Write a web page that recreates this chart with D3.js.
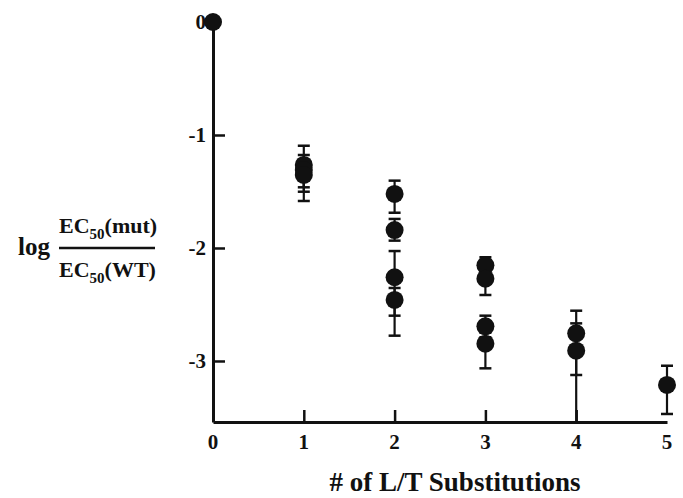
<!DOCTYPE html>
<html>
<head>
<meta charset="utf-8">
<script src="https://cdn.jsdelivr.net/npm/d3@7"></script>
<style>
  body { margin: 0; background: #fff; }
  text { font-family: "Liberation Serif", "Times New Roman", serif; font-weight: bold; fill: #111; }
</style>
</head>
<body>
<svg id="myGraph" width="683" height="498"></svg>
<script>
// number of L/T substitutions for each mutant
var substitutions = [0, 1, 1, 1, 2, 2, 2, 2, 3, 3, 3, 3, 4, 4, 5]
// log EC50(mut)/EC50(WT)
var logRatio = [0, -1.265, -1.31, -1.354, -1.522, -1.841, -2.259, -2.46, -2.153, -2.272, -2.693, -2.847, -2.755, -2.909, -3.212]
// error bar ends (upper / lower), null = no bar
var errHigh = [null, -1.095, -1.177, -1.25, -1.404, -1.743, -2.027, -2.354, -2.082, -2.2, -2.599, -2.75, -2.555, -2.667, -3.042]
var errLow = [null, -1.463, -1.502, -1.584, -1.688, -1.935, -2.599, -2.776, -2.22, -2.416, -2.79, -3.065, -3.124, -3.6, -3.469]

var xTicks = [0, 1, 2, 3, 4, 5]
var yTicks = [0, -1, -2, -3]

var data = substitutions.map((d, i) => {
    return { x: d, y: logRatio[i], hi: errHigh[i], lo: errLow[i] }
})

var svg = d3.select("#myGraph")

var xScale = d3.scaleLinear()
        .domain([0, 5])
        .range([213, 667])

var yScale = d3.scaleLinear()
        .domain([-3.54, 0])
        .range([422, 22])

var yMin = yScale.domain()[0]

// domain line + inward ticks, labels drawn separately
var xAxis = d3.axisTop(xScale)
        .tickValues([1, 2, 3, 4])
        .tickSize(12)
        .tickFormat("")
        .tickSizeOuter(0)

svg.append("g")
    .attr("class", "axis")
    .attr("transform", "translate(0," + yScale(yMin) + ")")
    .call(xAxis)

var yAxis = d3.axisRight(yScale)
        .tickValues([-1, -2, -3])
        .tickSize(12)
        .tickFormat("")
        .tickSizeOuter(0)

svg.append("g")
    .attr("class", "axis")
    .attr("transform", "translate(" + xScale(0) + ",0)")
    .call(yAxis)

svg.selectAll(".axis path").attr("stroke", "#111").attr("stroke-width", 3)
svg.selectAll(".axis line").attr("stroke", "#111").attr("stroke-width", 2.5)

// tick labels
svg.append("g")
    .selectAll("text")
    .data(xTicks)
    .enter()
    .append("text")
    .attr("x", d => xScale(d))
    .attr("y", 449)
    .attr("text-anchor", "middle")
    .style("font-size", "21px")
    .text(d => d)

svg.append("g")
    .selectAll("text")
    .data(yTicks)
    .enter()
    .append("text")
    .attr("x", 206)
    .attr("y", d => yScale(d) + 7)
    .attr("text-anchor", "end")
    .style("font-size", "21px")
    .text(d => d)

// error bars
var bars = data.filter(d => d.hi !== null)

svg.append("g")
    .selectAll("line")
    .data(bars)
    .enter()
    .append("line")
    .attr("x1", d => xScale(d.x))
    .attr("x2", d => xScale(d.x))
    .attr("y1", d => yScale(d.hi))
    .attr("y2", d => yScale(Math.max(d.lo, yMin)))
    .attr("stroke", "#111")
    .attr("stroke-width", 2.2)

var caps = []
bars.forEach(d => {
    caps.push({ x: d.x, v: d.hi })
    if (d.lo >= yMin) caps.push({ x: d.x, v: d.lo })
})

svg.append("g")
    .selectAll("line")
    .data(caps)
    .enter()
    .append("line")
    .attr("x1", d => xScale(d.x) - 6)
    .attr("x2", d => xScale(d.x) + 6)
    .attr("y1", d => yScale(d.v))
    .attr("y2", d => yScale(d.v))
    .attr("stroke", "#111")
    .attr("stroke-width", 2.5)

// points
svg.append("g")
    .selectAll("circle")
    .data(data)
    .enter()
    .append("circle")
    .attr("cx", d => xScale(d.x))
    .attr("cy", d => yScale(d.y))
    .attr("r", 9)
    .attr("fill", "#111")

// x title
svg.append("text")
    .attr("x", 455)
    .attr("y", 491)
    .attr("text-anchor", "middle")
    .style("font-size", "27px")
    .text("# of L/T Substitutions")

// y title: log EC50(mut)/EC50(WT)
var yl = svg.append("g")

yl.append("text")
    .attr("x", 18)
    .attr("y", 255)
    .style("font-size", "25px")
    .text("log")

var num = yl.append("text")
    .attr("x", 59)
    .attr("y", 233)
    .style("font-size", "22px")
num.append("tspan").text("EC")
num.append("tspan").attr("dy", 6).style("font-size", "15px").text("50")
num.append("tspan").attr("dy", -6).text("(mut)")

yl.append("line")
    .attr("x1", 59)
    .attr("x2", 155)
    .attr("y1", 248)
    .attr("y2", 248)
    .attr("stroke", "#111")
    .attr("stroke-width", 2.5)

var den = yl.append("text")
    .attr("x", 59)
    .attr("y", 277)
    .style("font-size", "22px")
den.append("tspan").text("EC")
den.append("tspan").attr("dy", 6).style("font-size", "15px").text("50")
den.append("tspan").attr("dy", -6).text("(WT)")
</script>
</body>
</html>
